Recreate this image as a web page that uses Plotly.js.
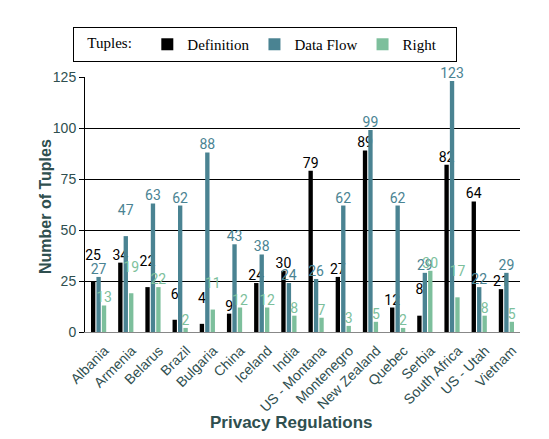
<!DOCTYPE html>
<html>
<head>
<meta charset="utf-8">
<script src="https://cdn.plot.ly/plotly-3.0.1.min.js"></script>
<style>
  body { margin: 0; background: white; }
  #chart { width: 549px; height: 439px; }
</style>
</head>
<body>
<div id="chart"></div>
<script>
var regions = ['Albania', 'Armenia', 'Belarus', 'Brazil', 'Bulgaria', 'China', 'Iceland', 'India',
  'US - Montana', 'Montenegro', 'New Zealand', 'Quebec', 'Serbia', 'South Africa', 'US - Utah', 'Vietnam'];
var definition = [25, 34, 22, 6, 4, 9, 24, 30, 79, 27, 89, 12, 8, 82, 64, 21];
var dataFlow = [27, 47, 63, 62, 88, 43, 38, 24, 26, 62, 99, 62, 29, 123, 22, 29];
var right = [13, 19, 22, 2, 11, 12, 12, 8, 7, 3, 5, 2, 30, 17, 8, 5];

// labels pushed up one line in the original to dodge their neighbours
var liftDefinition = [0, 2, 3, 4, 12];
var liftDataFlow = [1];
var liftRight = [1, 4, 13];

var slate = '#2f4f4f';
var serif = "'Liberation Serif', 'Times New Roman', Times, serif";
var sans = "'Liberation Sans', Arial, Helvetica, sans-serif";

function series(name, vals, color, lifted) {
  return {
    type: 'bar',
    name: name,
    x: regions,
    y: vals,
    text: vals.map(function (v, i) {
      return lifted.indexOf(i) >= 0 ? v + '<br>\u00a0' : String(v);
    }),
    textposition: 'outside',
    cliponaxis: false,
    constraintext: 'none',
    textfont: { family: 'Roboto', size: 14, color: color },
    marker: { color: color }
  };
}

var data = [
  series('Definition', definition, '#000000', liftDefinition),
  series('Data Flow', dataFlow, '#4a8392', liftDataFlow),
  series('Right\u00a0\u00a0\u00a0\u00a0', right, '#7dbf9c', liftRight)
];

var layout = {
  width: 549,
  height: 439,
  margin: { l: 85, r: 29, t: 77, b: 107 },
  paper_bgcolor: 'white',
  plot_bgcolor: 'white',
  font: { family: sans },
  barmode: 'group',
  bargap: 0.4,
  bargroupgap: 0.2,
  showlegend: true,
  legend: {
    orientation: 'h',
    x: 0.414,
    xanchor: 'center',
    y: 1.196,
    yanchor: 'top',
    bordercolor: 'black',
    borderwidth: 1,
    font: { family: serif, size: 15, color: 'black' },
    title: { text: '\u00a0\u00a0\u00a0Tuples:\u00a0\u00a0', side: 'left', font: { family: serif, size: 15, color: 'black' } },
    itemwidth: 30
  },
  xaxis: {
    tickangle: -45,
    tickfont: { family: sans, size: 14, color: slate },
    ticklabelshift: 6,
    ticklabelstandoff: 4,
    showline: true,
    linecolor: '#888888',
    linewidth: 1,
    ticks: ''
  },
  yaxis: {
    range: [0, 125],
    tickvals: [0, 25, 50, 75, 100, 125],
    tickfont: { family: sans, size: 14, color: slate },
    showgrid: true,
    gridcolor: 'black',
    gridwidth: 1,
    zeroline: false,
    showline: true,
    linecolor: 'black',
    ticks: 'outside',
    ticklen: 5,
    tickcolor: 'black'
  },
  annotations: [
    {
      text: 'Number of Tuples',
      xref: 'paper', yref: 'paper',
      x: -0.092, y: 0.494,
      xanchor: 'center', yanchor: 'middle',
      textangle: -90,
      showarrow: false,
      font: { family: sans, size: 16, color: slate, weight: 'bold' }
    },
    {
      text: 'Privacy Regulations',
      xref: 'paper', yref: 'paper',
      x: 0.474, y: -0.353,
      xanchor: 'center', yanchor: 'middle',
      showarrow: false,
      font: { family: sans, size: 17, color: slate, weight: 'bold' }
    }
  ]
};

Plotly.newPlot('chart', data, layout, { displayModeBar: false });
</script>
</body>
</html>
